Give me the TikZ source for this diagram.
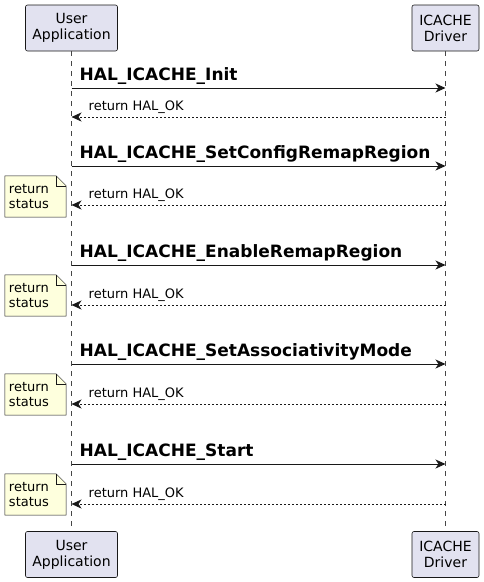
\documentclass[tikz,border=0pt]{standalone}
\usepackage{fontspec}
\setmainfont{DejaVu Sans}
\usetikzlibrary{arrows.meta, positioning, calc, backgrounds}
\definecolor{partfill}{HTML}{E2E2F0}
\definecolor{notefill}{HTML}{FEFFDD}
\definecolor{umlline}{HTML}{181818}
\tikzset{
    participant/.style={rectangle, rounded corners=2pt, draw=umlline, line width=0.6pt, fill=partfill, minimum width=92pt, minimum height=46pt, align=center, font=\fontsize{14}{16}\selectfont, inner sep=0pt},
    lifeline/.style={draw=umlline!80, line width=0.5pt, dash pattern=on 5pt off 5pt},
    callmsg/.style={draw=umlline, line width=0.8pt, -{Stealth[length=10pt, width=9pt, inset=3pt]}},
    retmsg/.style={draw=umlline, line width=0.6pt, dash pattern=on 2pt off 2pt, -{Stealth[length=10pt, width=9pt, inset=3pt]}},
    calllabel/.style={anchor=south west, inner sep=0pt, font=\fontsize{17}{19}\bfseries\selectfont},
    retlabel/.style={anchor=south west, inner sep=0pt, font=\fontsize{13}{15}\selectfont},
    notetext/.style={text width=53pt, minimum height=41pt, inner xsep=4pt, inner ysep=0pt, align=left, font=\fontsize{13}{15}\selectfont},
    notebox/.style={draw=umlline, line width=0.5pt, fill=notefill}
}

\begin{document}
\begin{tikzpicture}[x=1pt, y=-1pt]
    \useasboundingbox (0,0) rectangle (484,582);
    % participants
    \node[participant] (user) at (71.5,28) {User\\Application};
    \node[participant, minimum width=67pt] (drv) at (445.5,28) {ICACHE\\Driver};
    \node[participant] (userb) at (71.5,554.5) {User\\Application};
    \node[participant, minimum width=67pt] (drvb) at (445.5,554.5) {ICACHE\\Driver};
    \draw[lifeline] (user.south) -- (userb.north);
    \draw[lifeline] (drv.south) -- (drvb.north);

    % messages
    \foreach \n/\yc/\yr/\msg in {1/88/117/HAL\_ICACHE\_Init,
                                2/166/205/HAL\_ICACHE\_SetConfigRemapRegion,
                                3/265/305/HAL\_ICACHE\_EnableRemapRegion,
                                4/364/404/HAL\_ICACHE\_SetAssociativityMode,
                                5/464/504/HAL\_ICACHE\_Start}{
        \coordinate (uc\n) at (user.south |- 0,\yc);
        \coordinate (dc\n) at (drv.south |- 0,\yc);
        \coordinate (ur\n) at (user.south |- 0,\yr);
        \coordinate (dr\n) at (drv.south |- 0,\yr);
        \draw[callmsg] (uc\n) -- (dc\n);
        \node[calllabel] (call\n) at ($(uc\n)+(8,-3)$) {\msg};
        \draw[retmsg] (dr\n) -- (ur\n);
        \node[retlabel] (ret\n) at ($(ur\n)+(17,-3)$) {return HAL\_OK};
    }

    % notes
    \foreach \n/\y in {2/196.5, 3/295.5, 4/394.5, 5/494.5}{
        \node[notetext] (note\n) at (35.5,\y) {return\\status};
        \begin{scope}[on background layer]
            \draw[notebox] (note\n.north west) -- ($(note\n.north east)+(-10,0)$)
                -- ($(note\n.north east)+(0,10)$) -- (note\n.south east)
                -- (note\n.south west) -- cycle;
            \draw[notebox, fill=none] ($(note\n.north east)+(-10,0)$) |- ($(note\n.north east)+(0,10)$);
        \end{scope}
    }
\end{tikzpicture}
\end{document}
